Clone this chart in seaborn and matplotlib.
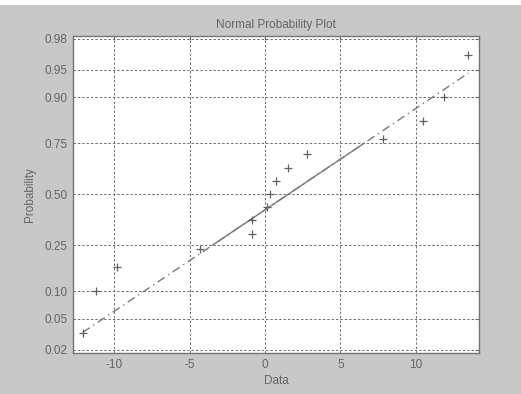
import numpy as np
import pandas as pd
import seaborn as sns
import matplotlib.pyplot as plt
from matplotlib.patches import Rectangle
from statistics import NormalDist

# Sorted sample values
data_values = [-12.1, -11.25, -9.85, -4.35, -0.9, -0.85, 0.1, 0.3,
               0.75, 1.55, 2.8, 7.85, 10.5, 11.9, 13.5]
prob_ticks = [0.02, 0.05, 0.10, 0.25, 0.50, 0.75, 0.90, 0.95, 0.98]
prob_labels = ['0.02', '0.05', '0.10', '0.25', '0.50', '0.75', '0.90', '0.95', '0.98']
x_ticks = [-10, -5, 0, 5, 10]

nd = NormalDist()
n = len(data_values)
x = np.array(data_values)
z = np.array([nd.inv_cdf((i - 0.5) / n) for i in range(1, n + 1)])
points = pd.DataFrame({'Data': x, 'z': z})

# reference line through the quartiles (like MATLAB normplot)
q1, q3 = np.percentile(x, [25, 75], method='hazen')
zq1, zq3 = nd.inv_cdf(0.25), nd.inv_cdf(0.75)
slope = (zq3 - zq1) / (q3 - q1)
def line_z(v):
    return zq1 + slope * (v - q1)
ext = pd.DataFrame({'Data': [x.min(), x.max()], 'z': [line_z(x.min()), line_z(x.max())]})
mid = pd.DataFrame({'Data': [q1, q3], 'z': [zq1, zq3]})

sns.set_style('white')
plt.rcParams['font.family'] = ['Liberation Sans', 'DejaVu Sans']
fig = plt.figure(figsize=(5.21, 3.94), dpi=100, facecolor='#c8c8c8')
fig.patches.append(Rectangle((0, 1 - 5 / 394), 1, 5 / 394, transform=fig.transFigure,
                             facecolor='white', edgecolor='none', zorder=5))
ax = fig.add_axes([73 / 521, 1 - 353 / 394, 406 / 521, 317 / 394])
ax.set_facecolor('white')

sns.lineplot(data=ext, x='Data', y='z', ax=ax, color='#7a7a7a', lw=1.0,
             linestyle=(0, (6, 3, 1, 3)), zorder=3)
sns.lineplot(data=mid, x='Data', y='z', ax=ax, color='#7a7a7a', lw=1.0, zorder=4)
sns.scatterplot(data=points, x='Data', y='z', ax=ax, marker='+', s=38,
                color='#606060', linewidth=0.9, zorder=5)

ax.set_xlim(-12.75, 14.2)
ax.set_ylim(-2.1, 2.09)
ax.set_xticks(x_ticks)
ax.set_xticklabels([str(t) for t in x_ticks])
ax.set_yticks([nd.inv_cdf(p) for p in prob_ticks])
ax.set_yticklabels(prob_labels)

ax.grid(True, color='#6e6e6e', linestyle=(0, (2.5, 2)), linewidth=0.7)
ax.tick_params(direction='in', length=3, width=0.8, color='#666666',
               labelsize=8.5, labelcolor='#666666', top=True, right=True, pad=4)
for sp in ax.spines.values():
    sp.set_color('#747474')
    sp.set_linewidth(1.0)

ax.set_title('Normal Probability Plot', fontsize=8.5, color='#666666', pad=6)
ax.set_xlabel('Data', fontsize=8.5, color='#666666', labelpad=3)
ax.set_ylabel('Probability', fontsize=8.5, color='#666666', labelpad=6)

plt.savefig('out.png', dpi=100, facecolor=fig.get_facecolor())
